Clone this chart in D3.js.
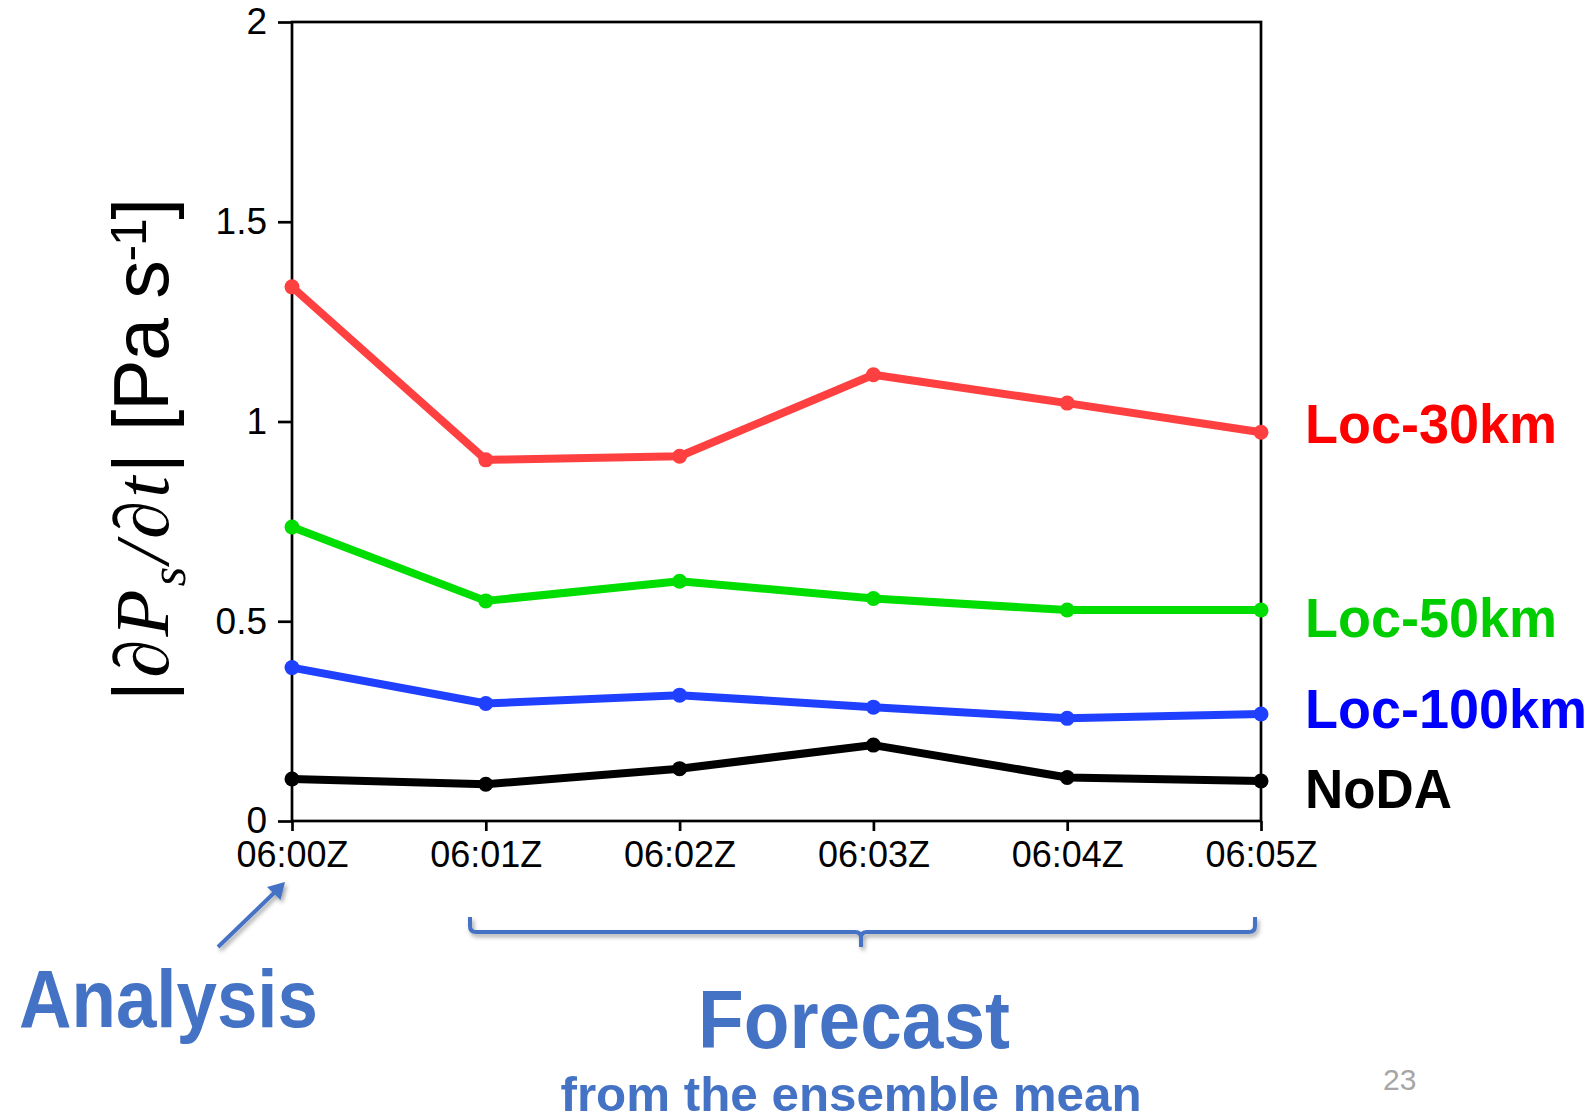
<!DOCTYPE html>
<html><head><meta charset="utf-8">
<script src="https://cdn.jsdelivr.net/npm/d3@7"></script>
<style>
html,body{margin:0;padding:0;background:#fff;}
svg{display:block;}
</style></head>
<body>
<svg id="chart" width="1596" height="1117"></svg>
<script>
// ---- data ----
const times = ["06:00Z","06:01Z","06:02Z","06:03Z","06:04Z","06:05Z"];
const loc30 = [1.337, 0.904, 0.913, 1.117, 1.046, 0.973];
const loc50 = [0.736, 0.551, 0.600, 0.557, 0.528, 0.528];
const loc100 = [0.384, 0.294, 0.315, 0.285, 0.257, 0.268];
const noda = [0.105, 0.092, 0.131, 0.190, 0.109, 0.100];
const yTicks = [0, 0.5, 1, 1.5, 2];
const yTickLabels = ["0", "0.5", "1", "1.5", "2"];
const seriesNames = ["Loc-30km", "Loc-50km", "Loc-100km", "NoDA"];

(function () {
// ---- styles / layout ----
const lineColors = ["#ff4040", "#00dd00", "#2040ff", "#000000"];
const labelColors = ["#ff0000", "#00cc00", "#0000ff", "#000000"];
const labelBaselines = [443, 637, 728, 808];
const labelWidths = [252, 252, 282, 147];
const accent = "#4472C4";

const svg = d3.select("#chart");
const pL = 292, pR = 1261, pT = 22, pB = 821;

const x = d3.scalePoint().domain(times).range([pL, pR]);
const y = d3.scaleLinear().domain([0, 2]).range([pB, pT]);

const defs = svg.append("defs");
const f = defs.append("filter").attr("id", "shadow").attr("x", "-20%").attr("y", "-50%").attr("width", "140%").attr("height", "250%");
f.append("feDropShadow").attr("dx", 2).attr("dy", 3).attr("stdDeviation", 2).attr("flood-color", "#000").attr("flood-opacity", 0.35);

// frame
svg.append("rect").attr("x", pL).attr("y", pT).attr("width", pR - pL).attr("height", pB - pT)
  .attr("fill", "none").attr("stroke", "#000").attr("stroke-width", 2.7);

const sansF = "Liberation Sans, Arial, sans-serif";
const mathF = "Liberation Serif, DejaVu Serif, serif";

// y axis
const yAxis = d3.axisLeft(y).tickValues(yTicks).tickFormat((d, i) => yTickLabels[i]).tickSize(14).tickPadding(11);
const gy = svg.append("g").attr("transform", `translate(${pL},0)`).call(yAxis);
gy.select(".domain").remove();
gy.selectAll(".tick line").attr("stroke", "#000").attr("stroke-width", 2.7);
gy.selectAll(".tick text").attr("font-family", sansF).attr("font-size", 37).attr("fill", "#000");

// x axis
const xAxis = d3.axisBottom(x).tickSize(10).tickPadding(10);
const gx = svg.append("g").attr("transform", `translate(0,${pB})`).call(xAxis);
gx.select(".domain").remove();
gx.selectAll(".tick line").attr("stroke", "#000").attr("stroke-width", 2.7);
gx.selectAll(".tick text").attr("font-family", sansF).attr("font-size", 37).attr("fill", "#000")
  .attr("textLength", 112).attr("lengthAdjust", "spacingAndGlyphs");

// lines
const allSeries = [loc30, loc50, loc100, noda];
const line = d3.line().x((d, i) => x(times[i])).y(d => y(d));
allSeries.forEach((s, k) => {
  svg.append("path").datum(s).attr("d", line).attr("fill", "none")
    .attr("stroke", lineColors[k]).attr("stroke-width", 8).attr("stroke-linejoin", "round");
  svg.selectAll(null).data(s).enter().append("circle")
    .attr("cx", (d, i) => x(times[i])).attr("cy", d => y(d)).attr("r", 7.5).attr("fill", lineColors[k]);
  svg.append("text").attr("x", 1305).attr("y", labelBaselines[k])
    .attr("font-family", sansF).attr("font-weight", "bold").attr("font-size", 56)
    .attr("fill", labelColors[k]).attr("textLength", labelWidths[k]).attr("lengthAdjust", "spacingAndGlyphs")
    .text(seriesNames[k]);
});

// y axis title (rotated; local x runs upward)
const tg = svg.append("g").attr("transform", "translate(168,0) rotate(-90)");
const mt = tg.append("text").attr("x", -701).attr("y", 0).attr("font-size", 77).attr("fill", "#000")
  .attr("textLength", 248).attr("lengthAdjust", "spacing");
mt.append("tspan").attr("font-family", sansF).text("|");
mt.append("tspan").attr("font-family", mathF).attr("font-style", "italic").text("∂P");
mt.append("tspan").attr("font-family", mathF).attr("font-style", "italic").attr("font-size", 50).attr("dy", 17).text("s");
mt.append("tspan").attr("font-family", mathF).attr("font-style", "italic").attr("dy", -17).text("/∂t");
mt.append("tspan").attr("font-family", sansF).text("|");
const ut = tg.append("text").attr("x", -431).attr("y", 0).attr("font-size", 77).attr("fill", "#000")
  .attr("font-family", sansF).attr("textLength", 233).attr("lengthAdjust", "spacing");
ut.append("tspan").text("[Pa s");
ut.append("tspan").attr("font-size", 50).attr("dy", -22).text("-1");
ut.append("tspan").attr("dy", 22).text("]");

// annotations
svg.append("text").attr("x", 19).attr("y", 1027).attr("font-family", sansF).attr("font-weight", "bold")
  .attr("font-size", 82).attr("fill", accent).attr("textLength", 299).attr("lengthAdjust", "spacingAndGlyphs").text("Analysis");

// arrow
const ag = svg.append("g").attr("filter", "url(#shadow)");
ag.append("line").attr("x1", 218).attr("y1", 947).attr("x2", 276).attr("y2", 891)
  .attr("stroke", accent).attr("stroke-width", 4);
ag.append("path").attr("d", "M285,882 L280.5,900 L267,887 Z").attr("fill", accent);

// bracket
svg.append("path").attr("filter", "url(#shadow)")
  .attr("d", "M470,917 V926 Q470,932 476,932 H855 Q861,932 861,938 V947 M861,938 Q861,932 867,932 H1249 Q1255,932 1255,926 V917")
  .attr("fill", "none").attr("stroke", accent).attr("stroke-width", 4);

svg.append("text").attr("x", 854).attr("y", 1048).attr("text-anchor", "middle").attr("font-family", sansF)
  .attr("font-weight", "bold").attr("font-size", 81).attr("fill", accent)
  .attr("textLength", 312).attr("lengthAdjust", "spacingAndGlyphs").text("Forecast");
svg.append("text").attr("x", 851).attr("y", 1111).attr("text-anchor", "middle").attr("font-family", sansF)
  .attr("font-weight", "bold").attr("font-size", 48).attr("fill", accent)
  .attr("textLength", 581).attr("lengthAdjust", "spacingAndGlyphs").text("from the ensemble mean");

svg.append("text").attr("x", 1383).attr("y", 1090).attr("font-family", sansF).attr("font-size", 30)
  .attr("fill", "#a6a6a6").text("23");
})();
</script>
</body></html>
